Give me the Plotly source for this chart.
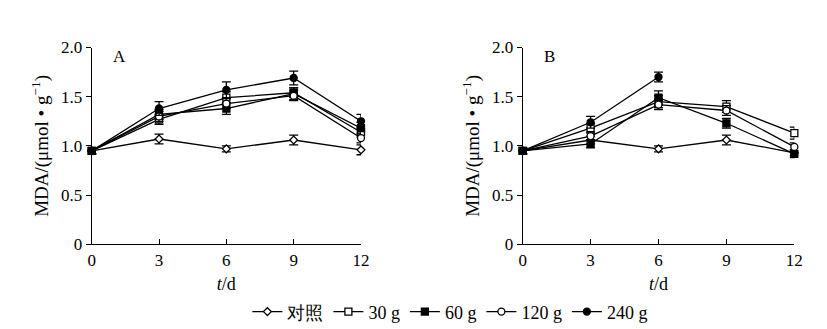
import plotly.graph_objects as go

days = [0, 3, 6, 9, 12]
names = ["对照", "30 g", "60 g", "120 g", "240 g"]

# Panel A values
a_ctrl = [0.95, 1.07, 0.97, 1.06, 0.96]
a_30 = [0.95, 1.27, 1.49, 1.54, 1.14]
a_60 = [0.95, 1.32, 1.38, 1.53, 1.18]
a_120 = [0.95, 1.30, 1.43, 1.51, 1.08]
a_240 = [0.95, 1.38, 1.57, 1.69, 1.25]
a_ctrl_err = [0.03, 0.05, 0.03, 0.05, 0.05]
a_30_err = [0.03, 0.05, 0.06, 0.05, 0.05]
a_60_err = [0.03, 0.05, 0.06, 0.06, 0.06]
a_120_err = [0.03, 0.05, 0.05, 0.05, 0.05]
a_240_err = [0.03, 0.07, 0.08, 0.07, 0.07]

# Panel B values
b_ctrl = [0.95, 1.06, 0.97, 1.06, 0.93]
b_30 = [0.95, 1.18, 1.45, 1.40, 1.13]
b_60 = [0.95, 1.02, 1.49, 1.23, 0.92]
b_120 = [0.95, 1.10, 1.42, 1.36, 0.99]
b_240 = [0.95, 1.24, 1.70, None, None]
b_ctrl_err = [0.03, 0.04, 0.03, 0.05, 0.03]
b_30_err = [0.03, 0.05, 0.06, 0.06, 0.06]
b_60_err = [0.03, 0.04, 0.07, 0.05, 0.04]
b_120_err = [0.03, 0.04, 0.05, 0.05, 0.04]
b_240_err = [0.03, 0.06, 0.05, 0, 0]

symbols = ["diamond", "square", "square", "circle", "circle"]
fills = ["white", "white", "black", "white", "black"]
sizes = [6, 7, 7, 7, 7]

FONT = "Liberation Serif"

fig = go.Figure()

panels = [
    ("x", "y", [a_ctrl, a_30, a_60, a_120, a_240], [a_ctrl_err, a_30_err, a_60_err, a_120_err, a_240_err], True),
    ("x2", "y2", [b_ctrl, b_30, b_60, b_120, b_240], [b_ctrl_err, b_30_err, b_60_err, b_120_err, b_240_err], False),
]

for xa, ya, series, errs, show in panels:
    for i in range(5):
        fig.add_trace(go.Scatter(
            x=days, y=series[i], xaxis=xa, yaxis=ya,
            mode="lines+markers", name=names[i], showlegend=show,
            line=dict(color="black", width=1.3),
            marker=dict(symbol=symbols[i], size=sizes[i], color=fills[i],
                        line=dict(color="black", width=1.3)),
            error_y=dict(type="data", array=errs[i], color="black", thickness=1.3, width=4.5),
            cliponaxis=False,
        ))

ydom = [0.2574, 0.8556]
axis_common = dict(showline=True, linecolor="black", linewidth=1.2, showgrid=False, zeroline=False,
                   tickfont=dict(family=FONT, size=17, color="black"), ticklen=5, tickwidth=1.2,
                   tickcolor="black", automargin=False)

for xa_key, ya_key, xdom, anchor_y, anchor_x in [("xaxis", "yaxis", [0.1109, 0.4365], "y", "x"),
                                               ("xaxis2", "yaxis2", [0.632, 0.9605], "y2", "x2")]:
    fig.update_layout(**{
        xa_key: dict(domain=xdom, anchor=anchor_y, range=[0, 12], tickvals=days, ticks="inside",
                     title=dict(text="<i>t</i>/d", font=dict(family=FONT, size=18, color="black"), standoff=8),
                     **axis_common),
        ya_key: dict(domain=ydom, anchor=anchor_x, range=[0, 2.0], tickvals=[0, 0.5, 1.0, 1.5, 2.0],
                     ticktext=["0", "0.5", "1.0", "1.5", "2.0"], ticks="outside",
                     title=dict(text="MDA/(μmol • g<sup>−1</sup>)", font=dict(family=FONT, size=19, color="black"), standoff=7),
                     **axis_common),
    })

fig.add_annotation(text="A", x=0.07, y=0.955, xref="x domain", yref="y domain", xanchor="left", yanchor="middle",
                   showarrow=False, font=dict(family=FONT, size=17, color="black"))
fig.add_annotation(text="B", x=0.07, y=0.955, xref="x2 domain", yref="y2 domain", xanchor="left", yanchor="middle",
                   showarrow=False, font=dict(family=FONT, size=17, color="black"))

fig.update_layout(
    width=827, height=329,
    margin=dict(l=0, r=0, t=0, b=0, autoexpand=False),
    paper_bgcolor="white", plot_bgcolor="white",
    showlegend=True,
    legend=dict(orientation="h", x=0.544, xanchor="center", y=0.052, yanchor="middle",
                font=dict(family=FONT, size=18, color="black"), itemwidth=30, tracegroupgap=0,
                bgcolor="rgba(0,0,0,0)"),
)

fig.write_html("out.html")
